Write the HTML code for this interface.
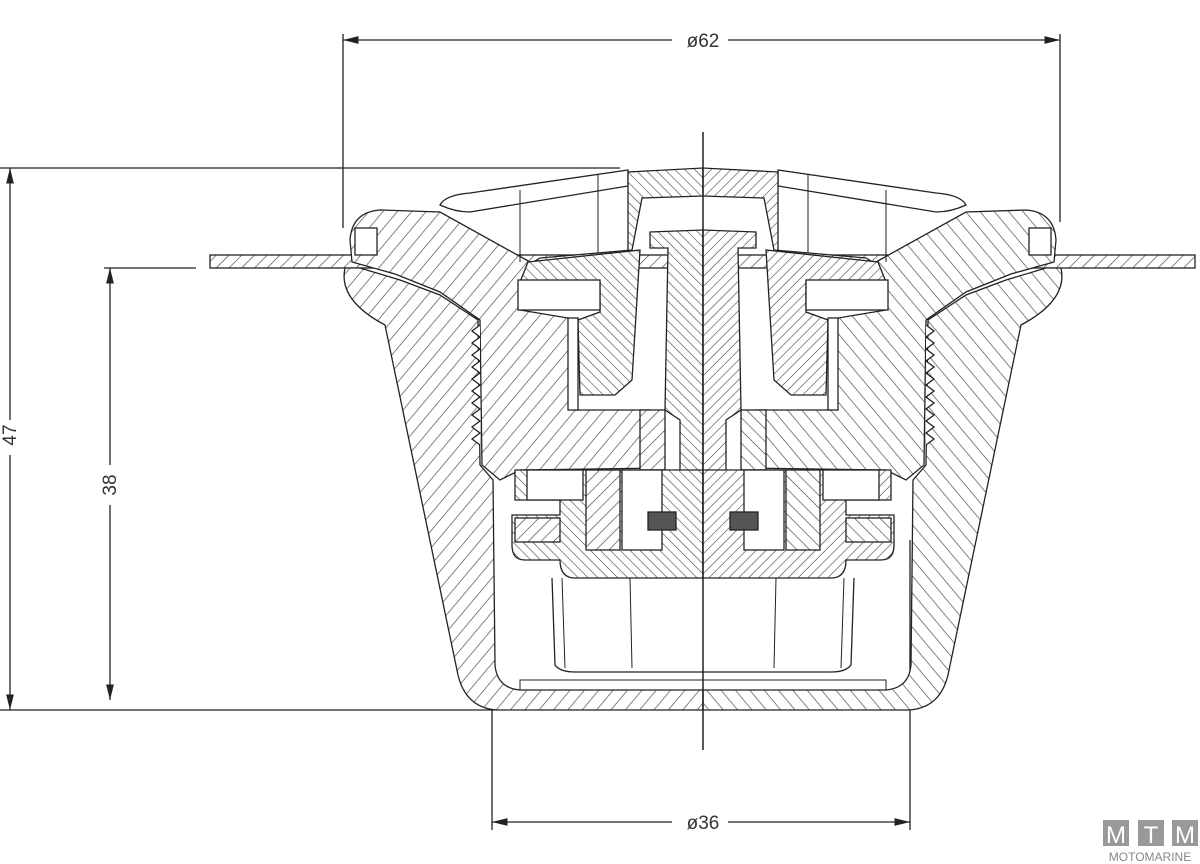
<!DOCTYPE html>
<html><head><meta charset="utf-8"><style>
html,body{margin:0;padding:0;background:#fff;width:1200px;height:864px;overflow:hidden}
svg{display:block}
.t{font-family:"Liberation Sans",sans-serif;font-size:19px;fill:#333}
</style></head><body>
<svg width="1200" height="864" viewBox="0 0 1200 864" xmlns="http://www.w3.org/2000/svg">
<defs>
<pattern id="h" patternUnits="userSpaceOnUse" width="9" height="9" patternTransform="rotate(45)">
<rect width="9" height="9" fill="#fff"/><line x1="0" y1="0" x2="0" y2="9" stroke="#444" stroke-width="1.3"/></pattern>
<pattern id="h2" patternUnits="userSpaceOnUse" width="7" height="7" patternTransform="rotate(-45)">
<rect width="7" height="7" fill="#fff"/><line x1="0" y1="0" x2="0" y2="7" stroke="#444" stroke-width="1.2"/></pattern>
<pattern id="h3" patternUnits="userSpaceOnUse" width="11" height="11" patternTransform="rotate(40)">
<rect width="11" height="11" fill="#fff"/><line x1="0" y1="0" x2="0" y2="11" stroke="#444" stroke-width="1.3"/></pattern>
<marker id="a" markerWidth="12" markerHeight="8" refX="12" refY="4" orient="auto"><path d="M0,1 L12,4 L0,7 Z" fill="#222"/></marker>
</defs>
<g stroke="#222" stroke-width="1.3" fill="none">
<path d="M672,40 L343,40" marker-end="url(#a)"/>
<path d="M728,40 L1060,40" marker-end="url(#a)"/>
<line x1="343" y1="34" x2="343" y2="228"/>
<line x1="1060" y1="34" x2="1060" y2="222"/>
<line x1="0" y1="168" x2="620" y2="168"/>
<line x1="0" y1="710" x2="495" y2="710"/>
<path d="M10,420 L10,168" marker-end="url(#a)"/>
<path d="M10,455 L10,710" marker-end="url(#a)"/>
<line x1="104" y1="268" x2="196" y2="268"/>
<path d="M110,465 L110,268" marker-end="url(#a)"/>
<path d="M110,505 L110,700" marker-end="url(#a)"/>
<line x1="492" y1="540" x2="492" y2="830"/>
<line x1="910" y1="540" x2="910" y2="830"/>
<path d="M672,822 L492,822" marker-end="url(#a)"/>
<path d="M728,822 L910,822" marker-end="url(#a)"/>
</g>
<text class="t" x="703" y="47" text-anchor="middle">ø62</text>
<text class="t" x="703" y="829" text-anchor="middle">ø36</text>
<text class="t" transform="translate(16,435) rotate(-90)" text-anchor="middle">47</text>
<text class="t" transform="translate(116,485) rotate(-90)" text-anchor="middle">38</text>

<rect x="210" y="255" width="985" height="13" fill="url(#h)" stroke="#222" stroke-width="1.3"/>

<g id="half" stroke="#222" stroke-width="1.3">
<path d="M345,268 Q338,300 385,325 L458,675 Q466,708 497,710 L703,710 L703,690 L520,690 Q497,688 495,665 L493,480 L480,465 L478,320 L440,295 L400,280 L360,268 Z" fill="url(#h3)"/>
<path d="M350,240 Q352,212 380,210 L440,212 L530,262 L520,310 L568,318 L575,410 L650,410 L660,468 L520,470 L500,480 L482,465 L480,320 L440,292 L395,274 L352,262 Z" fill="url(#h3)"/>
<path d="M480,325 l-8,6 l8,6 l-8,6 l8,6 l-8,6 l8,6 l-8,6 l8,6 l-8,6 l8,6 l-8,6 l8,6 l-8,6 l8,6 l-8,6 l8,6 l-8,6 l8,6 l-8,6 l8,6" fill="#fff"/>
<rect x="355" y="228" width="22" height="27" fill="#fff"/>
<path d="M440,205 Q445,195 470,193 L628,170 L628,186 L470,212 Q455,212 440,205 Z" fill="#fff"/>
<line x1="520" y1="190" x2="520" y2="262" stroke-width="1"/>
<line x1="598" y1="175" x2="598" y2="255" stroke-width="1"/>
<path d="M628,172 L703,168 L703,196 L642,198 L632,250 L540,258 L530,264 L600,262 L628,250 Z" fill="url(#h2)"/>
<path d="M528,262 L640,250 L632,380 L615,395 L580,395 L578,320 L600,312 L600,282 L520,282 Z" fill="url(#h2)"/>
<rect x="518" y="280" width="82" height="30" fill="#fff"/>
<rect x="568" y="318" width="10" height="92" fill="#fff"/>
<path d="M650,232 L703,230 L703,560 L680,560 L680,420 L665,410 L668,248 L650,248 Z" fill="url(#h2)"/>
<rect x="640" y="410" width="25" height="60" fill="url(#h)"/>
<path d="M515,470 L703,470 L703,578 L575,578 Q560,578 560,560 L525,560 Q512,560 512,545 L512,515 L560,515 L560,500 L515,500 Z" fill="url(#h2)"/>
<rect x="527" y="470" width="56" height="30" fill="#fff"/>
<rect x="622" y="470" width="40" height="80" fill="#fff"/>
<rect x="586" y="470" width="34" height="80" fill="url(#h)"/>
<rect x="648" y="512" width="28" height="18" fill="#555"/>
<rect x="515" y="518" width="45" height="24" fill="url(#h)"/>
<path d="M552,578 L555,665 Q560,672 575,672 L703,672" fill="none"/>
<path d="M562,578 L565,668" fill="none" stroke-width="1"/>
<path d="M630,578 L632,668" fill="none" stroke-width="1"/>
<path d="M520,690 L520,680 L703,680" fill="none" stroke-width="1"/>
</g>
<use href="#half" transform="translate(1406,0) scale(-1,1)"/>
<line x1="703" y1="132" x2="703" y2="750" stroke="#222" stroke-width="1.5"/>

<g font-family="Liberation Sans,sans-serif" text-anchor="middle">
<rect x="1103" y="820" width="26" height="26" fill="#999"/>
<rect x="1138" y="820" width="26" height="26" fill="#999"/>
<rect x="1172" y="820" width="26" height="26" fill="#999"/>
<text x="1116" y="843" font-size="24" fill="#fff">M</text>
<text x="1151" y="843" font-size="24" fill="#fff">T</text>
<text x="1185" y="843" font-size="24" fill="#fff">M</text>
<text x="1150" y="861" font-size="12" fill="#888">MOTOMARINE</text>
</g>
</svg>
</body></html>
